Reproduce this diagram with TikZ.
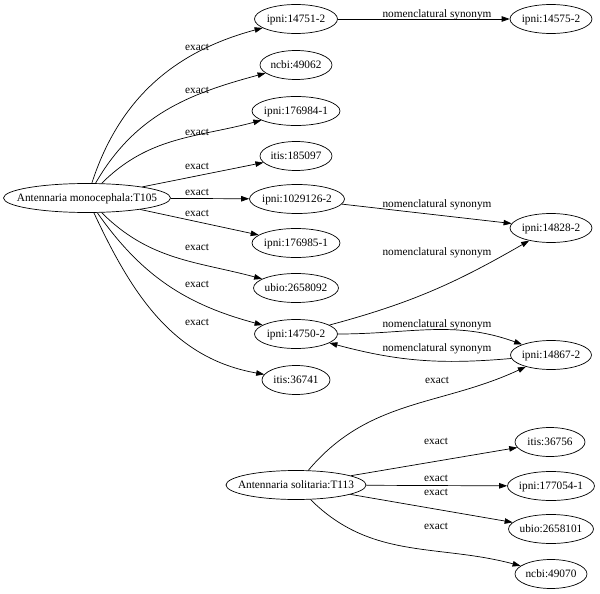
\documentclass[tikz,border=0pt]{standalone}
\usepackage{fontspec}
\setmainfont{Liberation Serif}
\usetikzlibrary{shapes.geometric,arrows.meta}
\newcommand\ztext[1]{\makebox[0pt]{#1}}
\begin{document}
\begin{tikzpicture}[x=1pt,y=-1pt,
  every node/.style={font=\fontsize{11.3}{13}\selectfont},
  ell/.style={draw, ellipse, line width=0.7pt, inner sep=0pt, minimum height=29pt, minimum width=#1, text height=7.8pt, text depth=1pt},
  lab/.style={inner sep=0pt, text height=7.5pt, text depth=2.5pt},
  edge/.style={draw, line width=0.7pt, -{Triangle[length=8pt,width=5.5pt]}}]
\useasboundingbox (0,0) rectangle (600,594);
% nodes
\node[ell=167pt] (m) at (87,198) {\ztext{Antennaria monocephala:T105}};
\node[ell=83pt] (a1) at (296,19) {\ztext{ipni:14751-2}};
\node[ell=72pt] (b) at (296,65) {\ztext{ncbi:49062}};
\node[ell=88pt] (c) at (296,111) {\ztext{ipni:176984-1}};
\node[ell=72pt] (d) at (296,156) {\ztext{itis:185097}};
\node[ell=95pt] (e) at (297,199) {\ztext{ipni:1029126-2}};
\node[ell=88pt] (f) at (296,243) {\ztext{ipni:176985-1}};
\node[ell=85pt] (g) at (296,288) {\ztext{ubio:2658092}};
\node[ell=83pt] (h) at (296,334) {\ztext{ipni:14750-2}};
\node[ell=68pt] (i) at (296,380) {\ztext{itis:36741}};
\node[ell=82pt] (a2) at (551,19) {\ztext{ipni:14575-2}};
\node[ell=82pt] (k) at (551,228) {\ztext{ipni:14828-2}};
\node[ell=81pt] (l) at (551,355) {\ztext{ipni:14867-2}};
\node[ell=140pt] (s) at (296,485) {\ztext{Antennaria solitaria:T113}};
\node[ell=70pt] (n1) at (550,442) {\ztext{itis:36756}};
\node[ell=87pt] (n2) at (551,486) {\ztext{ipni:177054-1}};
\node[ell=85pt] (n3) at (551,529) {\ztext{ubio:2658101}};
\node[ell=72pt] (n4) at (551,574) {\ztext{ncbi:49070}};
% edges
\path[edge] (m) to[out=72,in=195] (a1);
\path[edge] (m) to[out=60,in=195] (b);
\path[edge] (m) to[out=45,in=195] (c);
\path[edge] (m) -- (d);
\path[edge] (m) -- (e);
\path[edge] (m) -- (f);
\path[edge] (m) to[out=-45,in=165] (g);
\path[edge] (m) to[out=-55,in=165] (h);
\path[edge] (m) to[out=-65,in=170] (i);
\path[edge] (a1) -- (a2);
\path[edge] (e) -- (k);
\path[edge] (h) to[out=15,in=210] (k);
\path[edge] (h) to[out=0,in=160] (l);
\path[edge] (l) to[out=185,in=-15] (h);
\path[edge] (s) to[out=50,in=205] (l);
\path[edge] (s) -- (n1);
\path[edge] (s) -- (n2);
\path[edge] (s) -- (n3);
\path[edge] (s) to[out=-45,in=165] (n4);
% labels
\node[lab] (e1) at (197,48) {exact};
\node[lab] (e2) at (197,91) {exact};
\node[lab] (e3) at (197,133) {exact};
\node[lab] (e4) at (197,167) {exact};
\node[lab] (e5) at (197,193) {exact};
\node[lab] (e6) at (197,214) {exact};
\node[lab] (e7) at (197,248) {exact};
\node[lab] (e8) at (197,285) {exact};
\node[lab] (e9) at (197,323) {exact};
\node[lab] (s1) at (437,15) {nomenclatural synonym};
\node[lab] (s2) at (437,205) {nomenclatural synonym};
\node[lab] (s3) at (437,253) {nomenclatural synonym};
\node[lab] (s4) at (437,325) {nomenclatural synonym};
\node[lab] (s5) at (437,349) {nomenclatural synonym};
\node[lab] (x1) at (437,381) {exact};
\node[lab] (x2) at (436,442) {exact};
\node[lab] (x3) at (436,479) {exact};
\node[lab] (x4) at (436,493) {exact};
\node[lab] (x5) at (436,527) {exact};
\end{tikzpicture}
\end{document}
